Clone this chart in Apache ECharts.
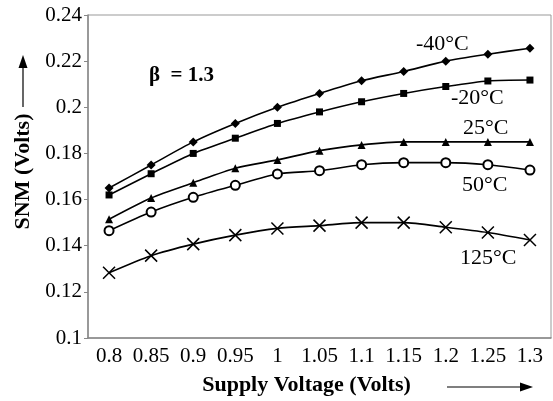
<!DOCTYPE html>
<html>
<head>
<meta charset="utf-8">
<script src="https://cdn.jsdelivr.net/npm/echarts@6/dist/echarts.min.js"></script>
<style>
  html, body { margin: 0; padding: 0; background: #fff; }
  #chart { width: 553px; height: 401px; }
</style>
</head>
<body>
<div id="chart"></div>
<script>
var voltages = ['0.8', '0.85', '0.9', '0.95', '1', '1.05', '1.1', '1.15', '1.2', '1.25', '1.3'];

var snmM40 = [0.165, 0.175, 0.185, 0.193, 0.200, 0.206, 0.2115, 0.2155, 0.220, 0.223, 0.2256];
var snmM20 = [0.162, 0.1712, 0.180, 0.1866, 0.193, 0.198, 0.2024, 0.206, 0.209, 0.2114, 0.2118];
var snm25 = [0.1515, 0.1607, 0.1673, 0.1736, 0.1772, 0.1812, 0.1837, 0.185, 0.185, 0.185, 0.185];
var snm50 = [0.1465, 0.1546, 0.161, 0.1662, 0.1711, 0.1725, 0.1751, 0.176, 0.176, 0.1751, 0.1728];
var snm125 = [0.1283, 0.1357, 0.1407, 0.1446, 0.1475, 0.1487, 0.150, 0.150, 0.148, 0.1457, 0.1425];

var font = 'Liberation Serif, Times New Roman, serif';
var crossPath = 'path://M0,0L10,10M10,0L0,10';

function line(name, data, symbol, size, extra) {
    var s = {
        name: name,
        type: 'line',
        smooth: 0.25,
        data: data,
        symbol: symbol,
        symbolSize: size,
        lineStyle: { color: '#000', width: 1.6 },
        itemStyle: { color: '#000' }
    };
    for (var k in extra) s[k] = extra[k];
    return s;
}

function label(text, x, y) {
    return { type: 'text', x: x, y: y, style: { text: text, font: '22px ' + font, fill: '#000', textAlign: 'left', textVerticalAlign: 'middle' } };
}

var option = {
    animation: false,
    grid: { left: 88, right: 2, top: 15, bottom: 63, show: true, borderColor: '#999', borderWidth: 1 },
    xAxis: {
        type: 'category',
        data: voltages,
        boundaryGap: true,
        axisLine: { lineStyle: { color: '#888', width: 1.5 } },
        axisTick: { show: false },
        axisLabel: { color: '#000', fontFamily: font, fontSize: 21, margin: 8, interval: 0, hideOverlap: false },
        name: 'Supply Voltage (Volts)',
        nameLocation: 'middle',
        nameGap: 36,
        nameTextStyle: { color: '#000', fontFamily: font, fontSize: 22, fontWeight: 'bold', padding: [0, 26, 0, 0] }
    },
    yAxis: {
        type: 'value',
        min: 0.1,
        max: 0.24,
        interval: 0.02,
        splitLine: { show: false },
        axisLine: { show: true, lineStyle: { color: '#888', width: 1.5 } },
        axisTick: { show: true, length: 4, lineStyle: { color: '#888' } },
        axisLabel: { color: '#000', fontFamily: font, fontSize: 21, margin: 6 },
        name: 'SNM (Volts)',
        nameLocation: 'middle',
        nameGap: 54,
        nameTextStyle: { color: '#000', fontFamily: font, fontSize: 22, fontWeight: 'bold', padding: [0, 0, 0, 10] }
    },
    series: [
        line('-40°C', snmM40, 'diamond', 9),
        line('-20°C', snmM20, 'rect', 7),
        line('25°C', snm25, 'triangle', 8),
        line('50°C', snm50, 'emptyCircle', 9, { itemStyle: { color: '#000', borderColor: '#000', borderWidth: 1.5 } }),
        line('125°C', snm125, crossPath, 12, { itemStyle: { color: 'none', borderColor: '#000', borderWidth: 1.5 } })
    ],
    graphic: [
        { type: 'text', x: 149, y: 76, style: { text: 'β  = 1.3', font: 'bold 21px ' + font, fill: '#000', textAlign: 'left', textVerticalAlign: 'middle' } },
        label('-40°C', 416, 44),
        label('-20°C', 451, 98),
        label('25°C', 463, 128),
        label('50°C', 462, 185),
        label('125°C', 460, 258),
        // up arrow beside y-axis title
        { type: 'line', shape: { x1: 23, y1: 107, x2: 23, y2: 66 }, style: { stroke: '#000', lineWidth: 1.2 } },
        { type: 'polygon', shape: { points: [[23, 55], [18.5, 68], [27.5, 68]] }, style: { fill: '#000' } },
        // right arrow beside x-axis title
        { type: 'line', shape: { x1: 447, y1: 387, x2: 522, y2: 387 }, style: { stroke: '#000', lineWidth: 1.2 } },
        { type: 'polygon', shape: { points: [[533, 387], [520, 382.5], [520, 391.5]] }, style: { fill: '#000' } }
    ]
};

var myChart = echarts.init(document.getElementById('chart'));
myChart.setOption(option);
</script>
</body>
</html>
